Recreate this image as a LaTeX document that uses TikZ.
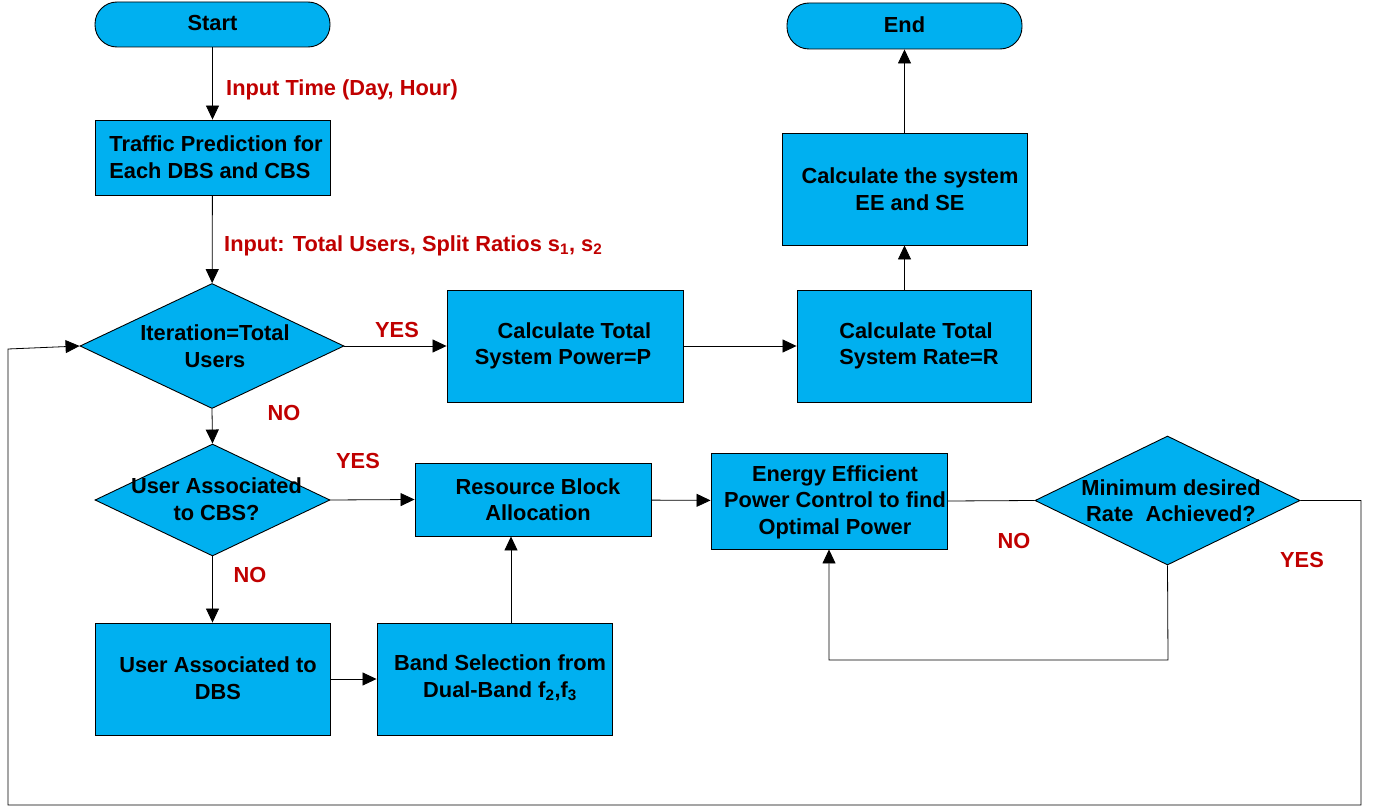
\documentclass[tikz,border=0pt]{standalone}
\usepackage{fontspec}
\setmainfont{Liberation Sans}
\usetikzlibrary{shapes.geometric,arrows.meta}
\definecolor{boxblue}{HTML}{00B0F0}
\definecolor{lblred}{HTML}{C00000}
\begin{document}
\begin{tikzpicture}[x=1pt,y=-1pt,
  every node/.style={font=\fontsize{21.8}{26.5}\selectfont\bfseries},
  box/.style={draw=black, fill=boxblue, line width=0.9pt, inner sep=0pt},
  term/.style={box, rounded corners=22pt},
  dia/.style={draw=black, fill=boxblue, line width=0.9pt, shape=diamond, inner sep=0pt},
  txt/.style={align=center, inner sep=0pt},
  lbl/.style={text=lblred, inner sep=0pt},
  link/.style={line width=0.8pt, draw=black},
  arr/.style={link, -{Triangle[length=14pt,width=13pt]}}]
\useasboundingbox (0,0) rectangle (1390,808);

% terminals
\node[term, minimum width=235pt, minimum height=45pt] (start) at (212.5,24.5) {};
\node[txt] (start-t) at (212.5,22.5) {Start};
\node[term, minimum width=235pt, minimum height=46pt] (end) at (904.5,26) {};
\node[txt] (end-t) at (904.5,24.5) {End};

% boxes
\node[box, minimum width=235pt, minimum height=75pt] (traffic) at (212.5,157.5) {};
\node[txt, align=left] (traffic-t) at (216,157) {Traffic Prediction for\\Each DBS and CBS};
\node[box, minimum width=236pt, minimum height=112pt] (power) at (565,346) {};
\node[txt, align=right] (power-t) at (563,346) {Calculate Total\\System Power=P};
\node[box, minimum width=234pt, minimum height=112pt] (rate) at (914,346) {};
\node[txt, align=left] (rate-t) at (919,346) {Calculate Total\\System Rate=R};
\node[box, minimum width=245pt, minimum height=112pt] (ee) at (904.5,189) {};
\node[txt] (ee-t) at (910,189) {Calculate the system\\EE and SE};
\node[box, minimum width=236pt, minimum height=73pt] (res) at (533,499.5) {};
\node[txt] (res-t) at (538,499.5) {Resource Block\\Allocation};
\node[box, minimum width=236pt, minimum height=96pt] (energy) at (829,501) {};
\node[txt] (energy-t) at (835,502) {Energy Efficient\\Power Control to find\\Optimal Power};
\node[box, minimum width=235pt, minimum height=112pt] (dbs) at (212.5,679) {};
\node[txt] (dbs-t) at (218,678) {User Associated to\\DBS};
\node[box, minimum width=235pt, minimum height=112pt] (band) at (494.5,679) {};
\node[txt] (band-t) at (500,678) {Band Selection from\\Dual-Band f\textsubscript{2},f\textsubscript{3}};

% decisions
\node[dia, minimum width=264pt, minimum height=125pt] (d1) at (212,346) {};
\node[txt] (d1-t) at (215,346) {Iteration=Total\\Users};
\node[dia, minimum width=235pt, minimum height=112pt] (d2) at (212.5,500) {};
\node[txt] (d2-t) at (216.5,499) {User Associated\\to CBS?};
\node[dia, minimum width=265pt, minimum height=129pt] (d3) at (1167.5,500.5) {};
\node[txt] (d3-t) at (1171,500.5) {Minimum desired\\Rate\ \ Achieved?};

% red labels
\node[lbl, anchor=west] (l1) at (226,90) {Input Time (Day, Hour)};
\node[lbl, anchor=west] (l2) at (224,245.5) {Input: Total Users, Split Ratios s\textsubscript{1}, s\textsubscript{2}};
\node[lbl] (y1) at (397,330) {YES};
\node[lbl] (n1) at (284,413) {NO};
\node[lbl] (y2) at (358,461) {YES};
\node[lbl] (n2) at (250,575) {NO};
\node[lbl] (n3) at (1014,541) {NO};
\node[lbl] (y3) at (1302,560) {YES};

% helper coordinates
\coordinate (bu) at (511,623);
\coordinate (lb) at (1168,660);
\coordinate (r1) at (1361,500.5);
\coordinate (r2) at (1361,805);
\coordinate (r3) at (8,805);
\coordinate (r4) at (8,349);

% connectors
\draw[arr] (start) -- (traffic);
\draw[arr] (traffic) -- (d1);
\draw[arr] (d1.south) -- (d2.north);
\draw[arr] (d1.east) -- (power.west);
\draw[arr] (power) -- (rate);
\draw[arr] (ee.south |- rate.north) -- (ee.south);
\draw[arr] (ee) -- (end);
\draw[arr] (d2.east) -- (res.west);
\draw[arr] (d2.south) -- (dbs.north);
\draw[arr] (dbs) -- (band);
\draw[arr] (bu) -- (bu |- res.south);
\draw[arr] (res) -- (energy);
\draw[link] (energy.east) -- (d3.west);
\draw[arr] (d3.south) -- (lb) -| (energy.south);
\draw[arr] (d3.east) -- (r1) -- (r2) -- (r3) -- (r4) -- (d1.west);
\end{tikzpicture}
\end{document}
